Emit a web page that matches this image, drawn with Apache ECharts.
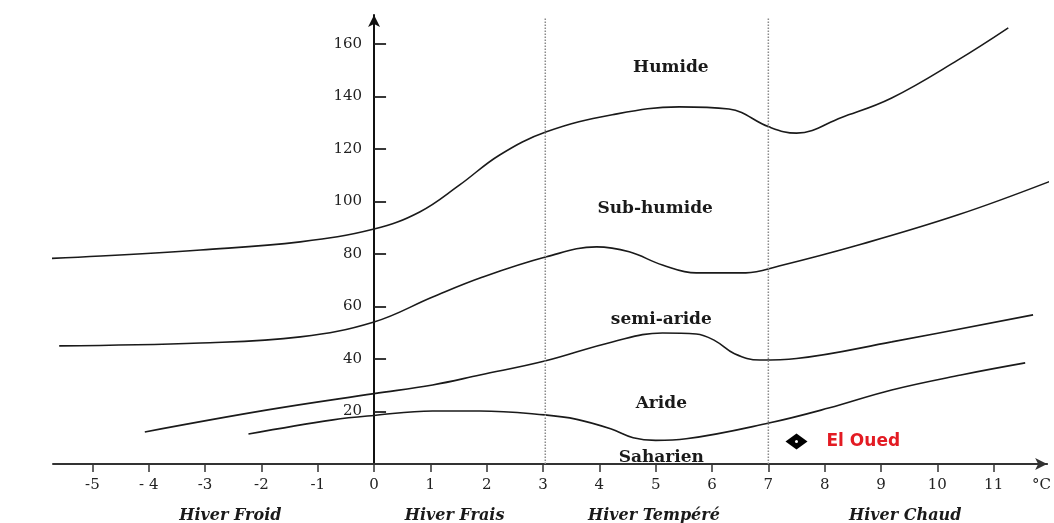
<!DOCTYPE html>
<html><head><meta charset="utf-8">
<script src="https://cdn.jsdelivr.net/npm/echarts@6/dist/echarts.min.js"></script>
<style>html,body{margin:0;padding:0;background:#fff}#c{width:1054px;height:523px}</style>
</head><body><div id="c"></div>
<script>
// Axis ticks and labels
const xTickValues = [-5,-4,-3,-2,-1,0,1,2,3,4,5,6,7,8,9,10,11];
const xTickLabels = ['-5','- 4','-3','-2','-1','0','1','2','3','4','5','6','7','8','9','10','11'];
const xUnitValue = 11.85;
const xUnitLabel = '°C';
const yTickValues = [20,40,60,80,100,120,140,160];

// Bioclimatic boundaries [m (°C), Q2]
const humideLimit = [[-6.41,77.7],[-4.85,79.2],[-3.08,81.5],[-1.31,84.6],[0,89.5],[0.81,96],[1.52,106.3],[2.23,117.7],[3.06,126.5],[4.23,133],[5.42,136],[6.3,135.2],[7.01,128.4],[7.5,126],[8.3,132],[9.19,139.4],[10.37,153.9],[11.26,166.1]];
const subHumideLimit = [[-5.59,45],[-3.08,46.1],[-1.31,48.4],[0,54.1],[1.04,63.6],[1.93,71.2],[3.06,78.9],[3.95,82.7],[4.53,80.8],[5.12,75.8],[5.72,72.8],[6.6,72.8],[7.19,75.4],[8.6,83.4],[10.37,94.9],[12.02,107.8]];
const semiArideLimit = [[-4.07,12.2],[-1.89,20.6],[0,26.8],[1.04,30.1],[1.88,33.9],[3.03,39.2],[4.23,46.5],[5.12,49.9],[5.72,49.5],[6.05,47],[6.4,42],[6.85,39.6],[7.5,40.2],[9.19,46.5],[11.7,56.8]];
const arideLimit = [[-2.23,11.4],[-0.73,16.8],[0,18.5],[1.04,20.2],[1.88,20.2],[3.03,18.7],[3.6,17],[4.2,13.4],[4.6,10],[5.0,9.0],[5.54,9.6],[7.01,15.6],[8.07,21.3],[9.19,28.2],[10.42,33.9],[11.56,38.5]];

// Winter-type separators (°C) and their vertical extent
const winterBounds = [3.04, 7.0];
const winterBoundTop = 170;

// Zone labels
const zoneLabels = [['Humide',5.27,150.9],['Sub-humide',4.99,97.1],['semi-aride',5.1,54.9],['Aride',5.1,23.2],['Saharien',5.1,2.3]];
const winterLabels = [['Hiver Froid',-2.55,-19.8],['Hiver Frais',1.43,-19.8],['Hiver Tempéré',4.97,-19.8],['Hiver Chaud',9.43,-19.8]];

// Station
const stationName = 'El Oued';
const station = [7.5, 8.6];

const serif = '"DejaVu Serif", "Liberation Serif", serif';
const labelSet = new Map(xTickValues.map((v,i)=>[v, xTickLabels[i]]));

function curve(data){
  return {type:'line', data, smooth:0.4, symbol:'none', clip:false, silent:true,
    lineStyle:{color:'#1a1a1a', width:1.6}};
}

const chart = echarts.init(document.getElementById('c'), null, {renderer:'canvas'});
const series = [
  curve(humideLimit), curve(subHumideLimit), curve(semiArideLimit), curve(arideLimit)
];
winterBounds.forEach(b=>{
  series.push({type:'line', data:[[b,0],[b,winterBoundTop]], symbol:'none', silent:true, clip:false,
    lineStyle:{color:'#8a8a8a', width:1.5, type:[1.5,1.5]}});
});
// y tick labels, placed beside the y axis (x = 0)
series.push({type:'scatter', clip:false, silent:true, symbolSize:0, itemStyle:{opacity:1},
  data: yTickValues.map(v=>[0,v]),
  label:{show:true, position:'left', distance:12, formatter:p=>String(p.value[1]), fontFamily:serif, fontSize:15, color:'#222'}});
series.push({type:'scatter', clip:false, silent:true, symbolSize:0, itemStyle:{opacity:1},
  data: zoneLabels.map(z=>({value:[z[1],z[2]], name:z[0]})),
  label:{show:true, position:'inside', formatter:p=>p.name, fontFamily:serif, fontWeight:'bold', fontSize:17, color:'#1a1a1a'}});
series.push({type:'scatter', clip:false, silent:true, symbolSize:0, itemStyle:{opacity:1},
  data: winterLabels.map(z=>({value:[z[1],z[2]], name:z[0]})),
  label:{show:true, position:'inside', formatter:p=>p.name, fontFamily:serif, fontWeight:'bold', fontStyle:'italic', fontSize:16, color:'#1a1a1a'}});
series.push({type:'scatter', clip:false, silent:true, symbol:'diamond', symbolSize:[22,16],
  itemStyle:{color:'#000', opacity:1},
  data:[{value:station, name:stationName}],
  label:{show:true, position:'right', distance:19, formatter:p=>p.name, fontFamily:'"DejaVu Sans", sans-serif', fontWeight:'bold', fontSize:17, color:'#e31b23'}});
series.push({type:'scatter', clip:false, silent:true, symbol:'circle', symbolSize:3, itemStyle:{color:'#fff', opacity:1}, data:[station]});

chart.setOption({
  animation:false,
  backgroundColor:'#fff',
  grid:{left:53, right:4, top:15, bottom:59, containLabel:false},
  xAxis:{type:'value', min:-5.7, max:11.95,
    axisLine:{show:true, onZero:true, lineStyle:{color:'#333', width:2}, symbol:['none','arrow'], symbolSize:[9,12]},
    axisTick:{show:true, customValues:xTickValues, length:8, lineStyle:{color:'#333', width:1.5}},
    axisLabel:{show:true, customValues:xTickValues.concat([xUnitValue]), margin:14, fontFamily:serif, fontSize:15, color:'#222',
      formatter:v=> Math.abs(v-xUnitValue)<1e-6 ? xUnitLabel : (labelSet.has(v)?labelSet.get(v):'')},
    splitLine:{show:false}},
  yAxis:{type:'value', min:0, max:171,
    axisLine:{show:true, onZero:true, lineStyle:{color:'#111', width:2}, symbol:['none','arrow'], symbolSize:[9,12]},
    axisTick:{show:true, inside:true, customValues:yTickValues, length:12, lineStyle:{color:'#222', width:1.8}},
    axisLabel:{show:false},
    splitLine:{show:false}},
  series
});
</script></body></html>
